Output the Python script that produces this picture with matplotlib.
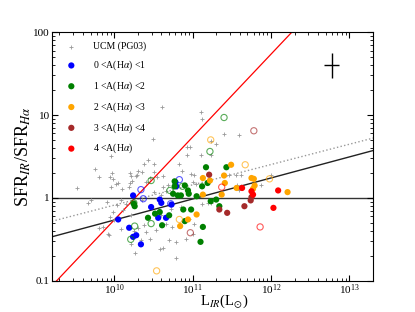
import numpy as np
import matplotlib
matplotlib.use("Agg")
import matplotlib.pyplot as plt

plt.rcParams['font.family'] = ['Liberation Serif', 'DejaVu Serif']
plt.rcParams['mathtext.fontset'] = 'stix'

# log10(L_IR) and log10(SFR_IR/SFR_Ha)
ucm_logL = [10.61, 11.10, 11.12, 10.49, 9.96, 10.43, 10.93, 10.96, 10.93, 11.10,
            11.40, 11.59, 11.30, 11.24, 11.23, 11.55, 11.61, 11.56, 11.61, 12.00,
            11.12, 11.19, 11.24, 11.46, 11.87, 11.59, 9.75, 9.97, 9.99, 10.02,
            10.05, 10.10, 10.20, 10.21, 10.20, 10.30, 10.29, 10.23, 10.28, 10.38,
            10.51, 10.83, 10.87, 10.98, 11.02, 10.36, 10.51, 10.55, 10.62, 10.45,
            10.40, 10.62, 10.68, 11.00, 11.04, 10.51, 10.59, 10.66, 10.00, 9.81,
            9.92, 10.09, 9.98, 9.94, 10.19, 10.21, 10.30, 10.25, 10.40, 10.34,
            10.58, 10.62, 10.27, 10.79, 10.45, 10.21, 10.70, 10.79, 10.91, 11.00,
            11.02, 10.74, 10.53, 9.91, 10.04, 10.11, 9.81, 9.94, 9.96, 9.70,
            9.85, 9.93, 10.09, 10.15, 10.38, 10.36, 10.59, 10.72, 10.85, 10.95,
            10.66, 9.52, 9.66]
ucm_logR = [1.10, 1.04, 0.95, 0.71, 0.50, 0.46, 0.62, 0.62, 0.52, 0.52,
            0.77, 0.76, 0.65, 0.69, 0.52, 0.28, 0.28, 0.15, 0.14, 0.28,
            -0.07, -0.06, -0.06, 0.28, 0.16, 0.10, 0.35, 0.30, 0.23, 0.17,
            0.18, 0.11, 0.30, 0.26, 0.18, 0.33, 0.28, 0.20, 0.27, 0.41,
            0.41, 0.41, 0.33, 0.29, 0.28, 0.31, 0.31, 0.25, 0.27, 0.24,
            0.19, 0.13, 0.15, 0.19, 0.17, 0.07, 0.04, 0.08, -0.27, -0.36,
            -0.43, -0.38, -0.17, -0.23, 0.13, -0.21, -0.36, -0.40, -0.41, -0.51,
            -0.62, -0.61, -0.66, -0.72, -0.49, -0.55, -0.51, -0.53, -0.49, -0.43,
            -0.31, -0.35, -0.39, -0.05, -0.09, -0.14, 0.25, 0.25, 0.13, -0.03,
            -0.35, -0.45, -0.03, -0.07, -0.33, -0.03, -0.21, -0.13, -0.11, -0.25,
            -0.31, 0.12, -0.06]

# filled: (logL, logR) per extinction bin
a01_logL = [10.24, 10.05, 10.19, 10.24, 10.28, 10.34, 10.47, 10.58, 10.60, 10.56, 10.66, 10.73, 10.78, 10.79]
a01_logR = [0.03, -0.26, -0.36, -0.47, -0.45, -0.56, -0.11, -0.02, -0.06, -0.24, -0.24, -0.08, 0.19, 0.14]
a12_logL = [10.25, 10.26, 10.43, 10.52, 10.58, 10.61, 10.70, 10.77, 10.77, 10.75, 10.81, 10.85, 10.88, 10.90,
            10.98, 10.90, 10.94, 10.95, 11.05, 11.13, 11.10, 11.17, 11.12, 11.43, 11.19, 11.23, 11.30, 11.34]
a12_logR = [-0.07, -0.10, -0.24, -0.19, -0.17, -0.33, -0.21, 0.20, 0.14, 0.05, 0.03, 0.03, -0.14, -0.28,
            -0.14, 0.15, 0.09, 0.05, 0.02, -0.35, -0.53, 0.37, 0.14, 0.37, 0.18, -0.04, -0.02, -0.10]
a23_logL = [10.84, 10.94, 11.05, 11.13, 11.13, 11.49, 11.40, 11.22, 11.41, 11.37, 11.56, 11.75, 11.78, 11.79, 11.77, 12.21]
a23_logR = [-0.34, -0.26, -0.20, 0.24, 0.04, 0.40, 0.27, 0.21, 0.18, 0.04, 0.12, 0.24, 0.23, 0.15, 0.11, 0.07]
a34_logL = [11.21, 11.34, 11.44, 11.66, 11.74, 11.75]
a34_logR = [0.28, -0.14, -0.18, -0.10, -0.03, 0.01]
a4_logL = [11.63, 11.75, 11.77, 12.09, 12.03]
a4_logR = [0.12, 0.08, 0.04, 0.09, -0.12]

# open circles
o01_logL = [10.34, 10.37, 10.72, 10.83]
o01_logR = [0.10, -0.01, -0.07, 0.22]
o12_logL = [10.25, 10.26, 10.21, 10.47, 10.47, 10.71, 10.87, 11.40, 11.22]
o12_logR = [-0.06, -0.34, -0.50, -0.31, 0.21, 0.09, 0.14, 0.97, 0.56]
o23_logL = [10.83, 10.54, 11.67, 11.98, 11.23]
o23_logR = [-0.26, -0.88, 0.40, 0.23, 0.70]
o34_logL = [10.97, 11.78]
o34_logR = [-0.42, 0.81]
o4_logL = [11.37, 11.86]
o4_logR = [0.13, -0.35]

labels = ['0 <A(H$\\alpha$) <1', '1 <A(H$\\alpha$) <2', '2 <A(H$\\alpha$) <3',
          '3 <A(H$\\alpha$) <4', '4 <A(H$\\alpha$)']
colors = ['#0000ff', '#008000', '#ffa500', '#a52a2a', '#ff0000']

# lines: log y = slope*(log L - 10) + icpt
red_slope, red_icpt = 1.0, -0.265
fit_slope, fit_icpt = 0.254, -0.267
dot_slope, dot_icpt = 0.245, -0.087

xlim = (1.6e9, 2.0e13)
ylim = (0.1, 100)

fig = plt.figure(figsize=(4.15, 3.12), dpi=100)
ax = fig.add_axes([0.125, 0.1, 0.774, 0.797])
ax.set_xscale('log')
ax.set_yscale('log')

lx = np.linspace(np.log10(xlim[0]), np.log10(xlim[1]), 50)
ax.plot(10**lx, 10**(red_slope * (lx - 10) + red_icpt), color='red', lw=0.9, zorder=1)
ax.plot(10**lx, 10**(fit_slope * (lx - 10) + fit_icpt), color='#222222', lw=1.0, zorder=1)
ax.plot(10**lx, 10**(dot_slope * (lx - 10) + dot_icpt), color='#999999', lw=1.0, ls=':', zorder=1)
ax.axhline(1, color='#333333', lw=1.0, zorder=1)

ax.scatter(10**np.array(ucm_logL), 10**np.array(ucm_logR), marker='+', s=12,
           color='#999999', linewidths=0.6, label='UCM (PG03)', zorder=2)

opens = [(o01_logL, o01_logR), (o12_logL, o12_logR), (o23_logL, o23_logR),
         (o34_logL, o34_logR), (o4_logL, o4_logR)]
filled = [(a01_logL, a01_logR), (a12_logL, a12_logR), (a23_logL, a23_logR),
          (a34_logL, a34_logR), (a4_logL, a4_logR)]
for (ox, oy), (fx, fy), c, lab in zip(opens, filled, colors, labels):
    ax.scatter(10**np.array(ox), 10**np.array(oy), s=20, facecolors='none',
               edgecolors=c, linewidths=0.8, alpha=0.65, zorder=3)
    ax.scatter(10**np.array(fx), 10**np.array(fy), s=20, color=c,
               edgecolors='none', label=lab, zorder=3)

# typical error bar
ex, ey, ed_x, ed_y = 5.9e12, 40.0, 0.1, 0.15
ax.errorbar([ex], [ey],
            xerr=[[ex - ex * 10**-ed_x], [ex * 10**ed_x - ex]],
            yerr=[[ey - ey * 10**-ed_y], [ey * 10**ed_y - ey]],
            fmt='none', ecolor='black', elinewidth=1.0, capsize=0)

ax.set_xlim(*xlim)
ax.set_ylim(*ylim)
ax.set_yticks([0.1, 1, 10, 100])
ax.set_yticklabels(['0.1', '1', '10', '100'])
ax.tick_params(which='both', direction='in', top=True, right=True, labelsize=8)
ax.tick_params(which='major', length=4, pad=1.5)
ax.tick_params(which='minor', length=2)

# x label anchored at its bottom so it stays inside the figure
ax.set_xlabel('L$_{IR}$(L$_{\\odot}$)', fontsize=10.5)
ax.xaxis.set_label_coords(0.535, -0.118)
ax.xaxis.label.set_va('bottom')
ax.set_ylabel('SFR$_{IR}$/SFR$_{H\\alpha}$', fontsize=13, labelpad=0)

ax.legend(loc='upper left', frameon=False, fontsize=7, handletextpad=1.2,
          labelspacing=0.75, borderaxespad=0.6, scatterpoints=1)

plt.savefig('out.png', dpi=100)
plt.close()
